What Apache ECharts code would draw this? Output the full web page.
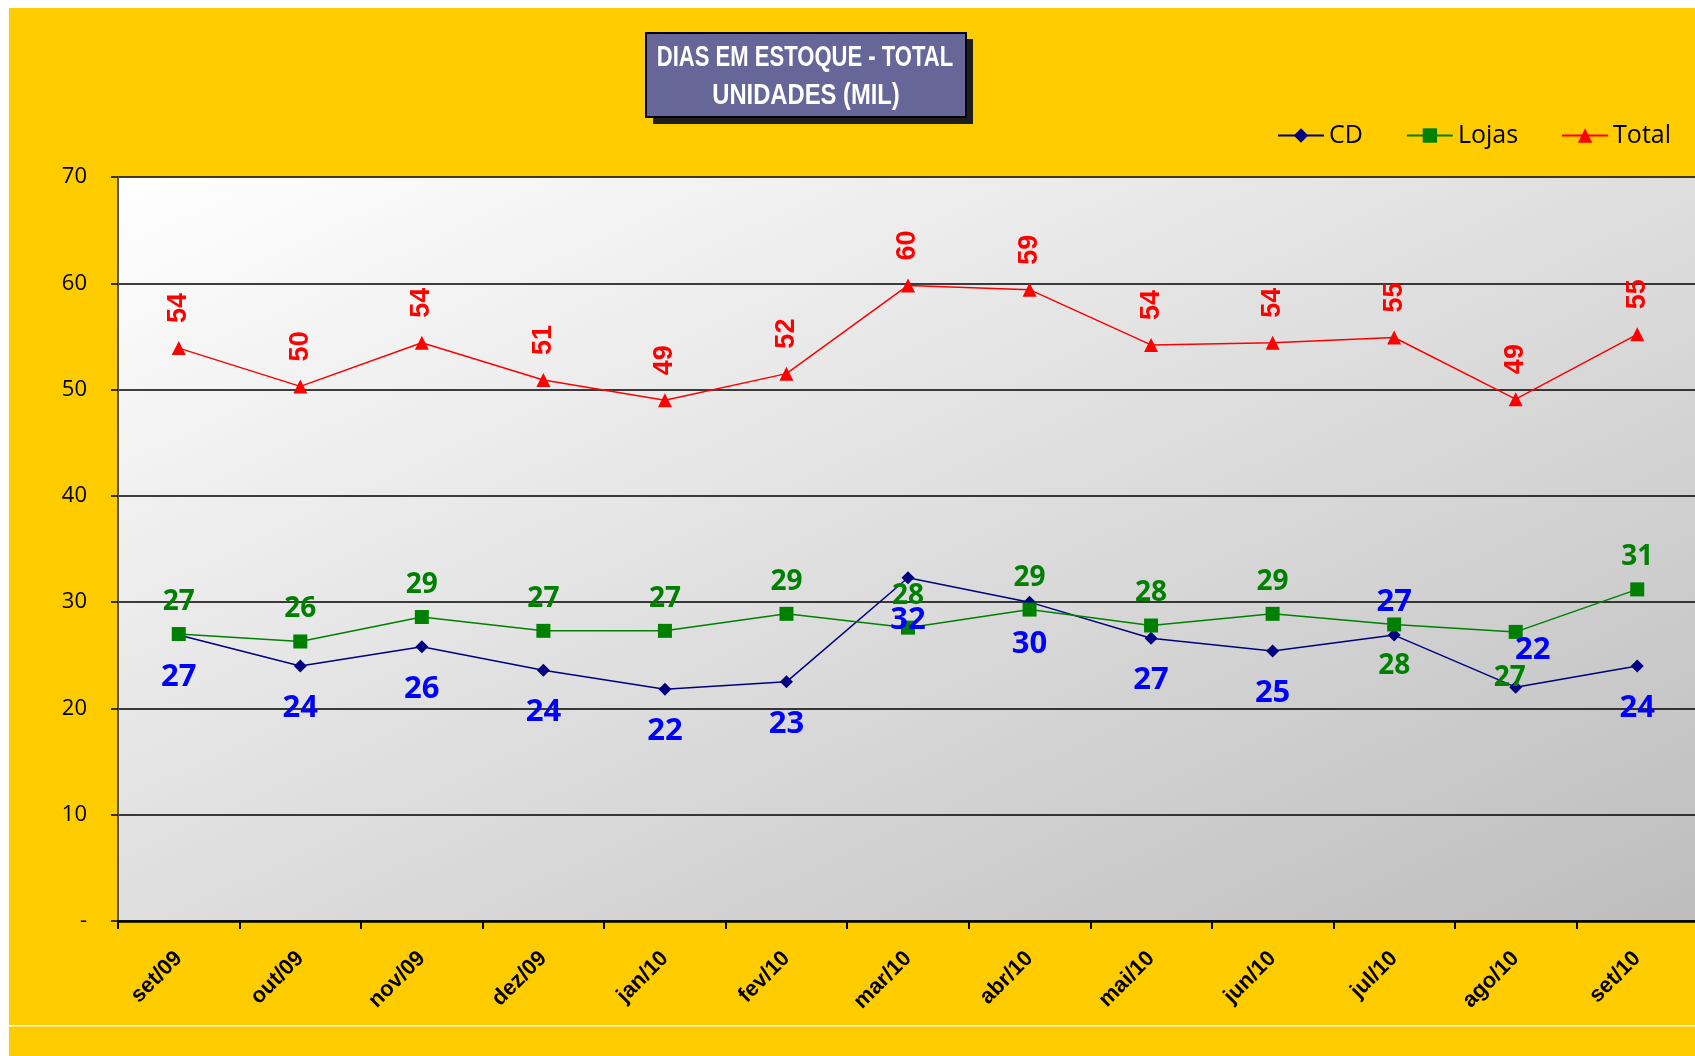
<!DOCTYPE html>
<html>
<head>
<meta charset="utf-8">
<script src="https://cdn.jsdelivr.net/npm/echarts@6/dist/echarts.min.js"></script>
<style>
  html, body { margin: 0; padding: 0; background: #fff; }
  #chart { width: 1695px; height: 1056px; }
</style>
</head>
<body>
<div id="chart"></div>
<script>
// ****** DATA ******
var months = ['set/09', 'out/09', 'nov/09', 'dez/09', 'jan/10', 'fev/10', 'mar/10',
              'abr/10', 'mai/10', 'jun/10', 'jul/10', 'ago/10', 'set/10'];
var cdValues    = [26.9, 24.0, 25.8, 23.6, 21.8, 22.5, 32.3, 30.0, 26.6, 25.4, 26.9, 22.0, 24.0];
var lojasValues = [27.0, 26.3, 28.6, 27.3, 27.3, 28.9, 27.6, 29.3, 27.8, 28.9, 27.9, 27.2, 31.2];
var totalValues = [53.9, 50.3, 54.4, 50.9, 49.0, 51.5, 59.8, 59.4, 54.2, 54.4, 54.9, 49.1, 55.2];
var yTickLabels = ['-', '10', '20', '30', '40', '50', '60', '70'];

// labels that sit on the other side of the point
var cdLabelFix = {
  10: { position: 'top', distance: 11 },
  11: { position: 'top', distance: 15, offset: [17, 0] }
};
var lojasLabelFix = {
  10: { position: 'bottom', distance: 21 },
  11: { position: 'bottom', distance: 25, offset: [-6, 0] }
};

function withLabels(vals, fix) {
  return vals.map(function (v, i) {
    return fix[i] ? { value: v, label: fix[i] } : v;
  });
}

var chart = echarts.init(document.getElementById('chart'));

var option = {
  backgroundColor: '#FFCC00',
  animation: false,
  graphic: [
    // white borders of the pasted picture
    { type: 'rect', shape: { x: 0, y: 0, width: 1695, height: 8 }, style: { fill: '#fff' } },
    { type: 'rect', shape: { x: 0, y: 0, width: 9, height: 1056 }, style: { fill: '#fff' } },
    { type: 'rect', shape: { x: 9, y: 1025, width: 1686, height: 1.5 }, style: { fill: '#fff' } },
    // title box
    { type: 'rect', shape: { x: 653, y: 39, width: 320, height: 85 }, style: { fill: '#1e1e1e' } },
    { type: 'rect', shape: { x: 646, y: 33, width: 320, height: 84 },
      style: { fill: '#666699', stroke: '#000', lineWidth: 2 } },
    { type: 'group', x: 805, y: 58, scaleX: 0.76, children: [
      { type: 'text', style: { text: 'DIAS EM ESTOQUE - TOTAL', x: 0, y: 0, align: 'center', verticalAlign: 'middle',
        fill: '#fff', font: 'bold 29px "Liberation Sans", Arial, sans-serif' } }
    ] },
    { type: 'group', x: 806, y: 96, scaleX: 0.82, children: [
      { type: 'text', style: { text: 'UNIDADES (MIL)', x: 0, y: 0, align: 'center', verticalAlign: 'middle',
        fill: '#fff', font: 'bold 29px "Liberation Sans", Arial, sans-serif' } }
    ] }
  ],
  legend: {
    left: 1277,
    top: 123,
    padding: 0,
    itemWidth: 46,
    itemHeight: 18,
    itemGap: 43,
    textStyle: { fontFamily: '"Open Sans", sans-serif', fontSize: 25, color: '#000' },
    data: ['CD', 'Lojas', 'Total']
  },
  grid: {
    left: 118,
    right: -3,
    top: 177,
    bottom: 135,
    outerBoundsMode: 'none',
    show: true,
    borderWidth: 0,
    backgroundColor: {
      type: 'linear', x: 0, y: 0, x2: 0.363, y2: 1.637,
      colorStops: [
        { offset: 0, color: '#ffffff' },
        { offset: 0.5, color: '#dedede' },
        { offset: 1, color: '#bdbdbd' }
      ]
    }
  },
  xAxis: {
    type: 'category',
    data: months,
    boundaryGap: true,
    axisLine: { lineStyle: { color: '#000', width: 2.5 } },
    axisTick: { show: true, length: 8, lineStyle: { color: '#000', width: 2 } },
    axisLabel: {
      rotate: 45,
      margin: 34,
      color: '#000',
      fontFamily: '"Liberation Sans", Arial, sans-serif',
      fontWeight: 'bold',
      fontSize: 22
    }
  },
  yAxis: {
    type: 'value',
    min: 0,
    max: 70,
    interval: 10,
    axisLine: { show: true, lineStyle: { color: '#555', width: 2 } },
    axisTick: { show: true, length: 7, lineStyle: { color: '#000', width: 1.5 } },
    axisLabel: {
      margin: 31,
      color: '#000',
      fontFamily: '"Open Sans", sans-serif',
      fontSize: 22,
      formatter: function (v) { return yTickLabels[Math.round(v / 10)]; }
    },
    splitLine: { show: true, lineStyle: { color: '#000', width: 1.5 } }
  },
  series: [
    {
      name: 'CD',
      type: 'line',
      data: withLabels(cdValues, cdLabelFix),
      symbol: 'diamond',
      symbolSize: 13,
      itemStyle: { color: '#000080' },
      lineStyle: { color: '#000080', width: 1.5 },
      label: {
        show: true,
        position: 'bottom',
        distance: 20,
        color: '#0000FF',
        fontFamily: '"Open Sans", sans-serif',
        fontWeight: 'bold',
        fontSize: 31,
        formatter: function (p) { return Math.round(p.value); }
      }
    },
    {
      name: 'Lojas',
      type: 'line',
      data: withLabels(lojasValues, lojasLabelFix),
      symbol: 'rect',
      symbolSize: 14,
      itemStyle: { color: '#008000' },
      lineStyle: { color: '#008000', width: 1.5 },
      label: {
        show: true,
        position: 'top',
        distance: 11,
        color: '#008000',
        fontFamily: '"Open Sans", sans-serif',
        fontWeight: 'bold',
        fontSize: 28,
        formatter: function (p) { return Math.round(p.value); }
      }
    },
    {
      name: 'Total',
      type: 'line',
      data: totalValues,
      symbol: 'triangle',
      symbolSize: 14,
      itemStyle: { color: '#FF0000' },
      lineStyle: { color: '#FF0000', width: 1.5 },
      label: {
        show: true,
        position: 'top',
        distance: 18,
        rotate: 90,
        align: 'left',
        verticalAlign: 'middle',
        color: '#FF0000',
        fontFamily: '"Liberation Sans", Arial, sans-serif',
        fontWeight: 'bold',
        fontSize: 27,
        formatter: function (p) { return Math.round(p.value); }
      }
    }
  ]
};

chart.setOption(option);
</script>
</body>
</html>
